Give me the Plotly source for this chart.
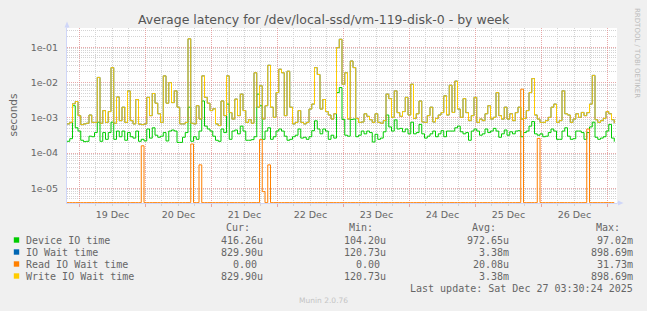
import plotly.graph_objects as go
import pandas as pd

# ---------------- data ----------------
start_time = "2025-12-18 19:30"
n_hours = 200

# Device IO time, microseconds, hourly
device_us = [
    215, 255, 2200, 520, 420, 230, 210, 215, 300, 290, 380, 750, 215, 380, 245, 380, 750, 245, 420, 290,
    420, 230, 380, 290, 265, 420, 215, 245, 220, 480, 265, 520, 320, 280,
    300, 380, 220, 420, 450, 420, 200, 200, 280, 380, 2000, 215, 290, 245, 420, 3000, 580, 480, 420, 300,
    230, 215, 480, 380, 2450, 245, 420, 450, 350, 580, 420, 230, 230,
    240, 290, 4700, 2200, 245, 420, 520, 245, 290, 420, 480, 420, 300, 230, 245, 290, 320, 480, 265, 280,
    245, 290, 430, 820, 480, 350, 480, 420, 245, 320, 265, 5200, 7200,
    900, 320, 300, 900, 920, 290, 320, 420, 350, 420, 380, 205, 340, 245, 265, 400, 1200, 550, 420, 870,
    480, 500, 400, 480, 350, 750, 350, 380, 650, 350, 265, 300, 350,
    420, 290, 350, 430, 290, 420, 420, 420, 520, 580, 400, 350, 380, 230, 420, 480, 420, 320, 350, 480,
    380, 420, 500, 420, 280, 350, 450, 320, 400, 350, 420, 430, 290,
    380, 420, 580, 780, 350, 320, 350, 290, 300, 380, 480, 420, 245, 245, 420, 520, 300, 245, 255, 420,
    420, 380, 245, 380, 550, 750, 280, 245, 265, 290, 420, 650, 265, 210,
]

# Write IO Wait time, microseconds, hourly
write_us = [
    670, 740, 2500, 2900, 1150, 640, 670, 700, 1200, 740, 740, 14000, 700, 1600, 740, 1500, 26600, 700, 3900, 830,
    2000, 740, 5800, 830, 670, 3300, 660, 640, 670, 3800, 1150, 4900, 2600, 1300,
    740, 15500, 2600, 10000, 2700, 5800, 2000, 670, 670, 740, 175000, 700, 670, 2200, 920, 15500, 3800, 2600, 1600, 1800,
    670, 600, 3000, 1150, 15500, 1400, 920, 3400, 1150, 4700, 1600, 740, 880,
    700, 19000, 2000, 8100, 920, 2200, 31000, 2000, 1030, 5200, 24000, 19000, 1150, 21000, 2000, 670, 740, 1600, 740, 670,
    740, 1770, 2450, 26600, 17000, 1770, 3300, 1500, 1200, 920, 1300, 98000, 170000,
    9000, 19000, 920, 41000, 26600, 960, 740, 760, 1300, 1100, 880, 740, 1300, 740, 700, 830, 4700, 3500, 1030, 5800,
    1400, 1100, 1500, 3800, 1200, 9000, 960, 1300, 3000, 760, 740, 1150, 2000,
    760, 960, 1200, 1400, 4200, 1200, 8400, 1420, 11000, 1770, 1030, 3500, 1400, 830, 1150, 3800, 740, 920, 830, 1300,
    2200, 920, 1030, 5200, 1150, 920, 2000, 920, 1300, 830, 1400, 2000, 920,
    960, 1600, 5200, 13000, 1200, 920, 740, 740, 830, 1030, 2000, 2450, 740, 830, 5800, 1300, 1200, 740, 920, 1300,
    1030, 1420, 1150, 1400, 2450, 16000, 880, 740, 830, 960, 1500, 1300, 880, 700,
]

# IO Wait time equals Write IO Wait time (legend figures are identical; hidden under yellow)
io_wait_us = list(write_us)

# Read IO Wait time: zero except these hours (index) / values (microseconds)
read_spike_hours = [27, 45, 48, 70, 71, 73, 165, 171, 189]
read_spike_us = [160, 180, 46, 240, 8, 46, 6500, 260, 480]

series_names = ["Device IO time", "IO Wait time", "Read IO Wait time", "Write IO Wait time"]
series_colors = ["#00CC00", "#0066B3", "#FF8000", "#FFCC00"]
cur_vals = ["416.26u", "829.90u", "0.00\u00a0", "829.90u"]
min_vals = ["104.20u", "120.73u", "0.00\u00a0", "120.73u"]
avg_vals = ["972.65u", "3.38m", "20.08u", "3.38m"]
max_vals = ["97.02m", "898.69m", "31.73m", "898.69m"]

y_tick_vals = [1e-5, 1e-4, 1e-3, 1e-2, 1e-1]
y_tick_text = ["1e-05", "1e-04", "1e-03", "1e-02", "1e-01"]

title_text = "Average latency for /dev/local-ssd/vm-119-disk-0 - by week"
last_update = "Last update: Sat Dec 27 03:30:24 2025"

# ---------------- build ----------------
times = pd.date_range(start_time, periods=n_hours, freq="h")
read_us = [0.0] * n_hours
for h, v in zip(read_spike_hours, read_spike_us):
    read_us[h] = v

Y_MIN, Y_MAX = -5.42, -0.45
floor = 10 ** (Y_MIN + 0.01)   # zero values sit on the bottom edge, like rrdtool


def to_s(lst):
    return [max(v / 1e6, floor) for v in lst]


fig = go.Figure()
all_series = [device_us, io_wait_us, read_us, write_us]
for name, col, data in zip(series_names, series_colors, all_series):
    fig.add_trace(go.Scatter(
        x=times, y=to_s(data), name=name, mode="lines",
        line=dict(color=col, width=1, shape="hv"),
        hoverinfo="skip",
    ))

L, R, T, B = 67, 617, 28, 203
W, H = 647, 311


def px(x):
    return (x - L) / (R - L)


def py(y):
    return (B - y) / (B - T)


FONT = "DejaVu Sans"
MONO = "DejaVu Sans Mono"
TXT = "#666666"
MAJ = "rgba(225,140,140,0.75)"
MIN = "#D4D4D4"
DASH = "1px,1px"

fig.update_layout(
    width=W, height=H,
    margin=dict(l=L, r=W - R, t=T, b=H - B, pad=0),
    paper_bgcolor="#F0F0F0", plot_bgcolor="#FFFFFF",
    showlegend=False,
    font=dict(family=FONT, size=9.5, color=TXT),
)

fig.update_xaxes(
    type="date",
    range=["2025-12-18 19:30", "2025-12-27 03:30"],
    tick0="2025-12-19", dtick=86400000,
    ticklabelmode="period", tickformat="%d %b",
    showgrid=True, gridcolor=MAJ, griddash=DASH, gridwidth=1,
    ticks="outside", ticklen=3, tickcolor=MAJ,
    minor=dict(dtick=21600000, showgrid=True, gridcolor=MIN, griddash=DASH,
               ticks="outside", ticklen=2, tickcolor=MIN),
    showline=True, linecolor="#CFD6F8", linewidth=1,
    zeroline=False, layer="below traces",
    tickfont=dict(family=FONT, size=9.5, color=TXT),
    fixedrange=True,
)

minor_vals = [k * 10 ** e for e in range(-6, 0) for k in range(2, 10)]
fig.update_yaxes(
    type="log", range=[Y_MIN, Y_MAX],
    tickvals=y_tick_vals, ticktext=y_tick_text,
    showgrid=True, gridcolor=MAJ, griddash=DASH, gridwidth=1,
    ticks="", ticklabelstandoff=6,
    minor=dict(tickvals=minor_vals, showgrid=True, gridcolor=MIN, griddash=DASH),
    showline=True, linecolor="#CFD6F8", linewidth=1,
    zeroline=False, layer="below traces",
    tickfont=dict(family=FONT, size=9.5, color=TXT),
    fixedrange=True,
)

ann = []


def text(x, y, s, anchor="left", size=10, family=MONO, color=TXT, angle=0, yanchor="middle"):
    ann.append(dict(x=px(x), y=py(y), xref="paper", yref="paper", text=s, showarrow=False,
                    xanchor=anchor, yanchor=yanchor, textangle=angle,
                    font=dict(family=family, size=size, color=color),
                    borderpad=0, borderwidth=0))


text(323.5, 19, title_text, anchor="center", size=12.5, family=FONT, color="#555555")
text(12, 115.5, "seconds", anchor="center", size=10.5, family=FONT, color=TXT, angle=-90)
text(637, 53, "RRDTOOL / TOBI OETIKER", anchor="center", size=7, family=FONT, color="#BBBBBB", angle=90)

col_right = [263, 386, 509, 632.6]
headers = ["Cur:", "Min:", "Avg:", "Max:"]
for hdr, xr in zip(headers, col_right):
    text(xr - 12.6, 227.5, hdr, anchor="right")

row_y = [240, 252, 264, 276]
shapes = []
for i, (name, col) in enumerate(zip(series_names, series_colors)):
    y = row_y[i]
    shapes.append(dict(type="rect", xref="paper", yref="paper",
                       x0=px(13.8), x1=px(19.2), y0=py(y + 2.7), y1=py(y - 2.7),
                       fillcolor=col, line=dict(width=0)))
    text(26, y, name, anchor="left")
    for vals, xr in zip([cur_vals, min_vals, avg_vals, max_vals], col_right):
        text(xr, y, vals[i], anchor="right")

text(632.6, 288, last_update, anchor="right")
text(323, 300.5, "Munin 2.0.76", anchor="center", size=7.5, family=FONT, color="#C4C4C4")

# axis arrows
AX = "#CFD6F8"
shapes.append(dict(type="path", xref="paper", yref="paper",
                   path=f"M {px(64.5)} {py(27.5)} L {px(67)} {py(21.5)} L {px(69.5)} {py(27.5)} Z",
                   fillcolor=AX, line=dict(width=0)))
shapes.append(dict(type="line", xref="paper", yref="paper",
                   x0=px(67), x1=px(67), y0=py(28), y1=py(26), line=dict(color=AX, width=1)))
shapes.append(dict(type="path", xref="paper", yref="paper",
                   path=f"M {px(618)} {py(200.5)} L {px(623.5)} {py(203)} L {px(618)} {py(205.5)} Z",
                   fillcolor=AX, line=dict(width=0)))
shapes.append(dict(type="line", xref="paper", yref="paper",
                   x0=px(617), x1=px(619), y0=py(203), y1=py(203), line=dict(color=AX, width=1)))

fig.update_layout(annotations=ann, shapes=shapes)

fig.write_html("out.html", config={"displayModeBar": False})
